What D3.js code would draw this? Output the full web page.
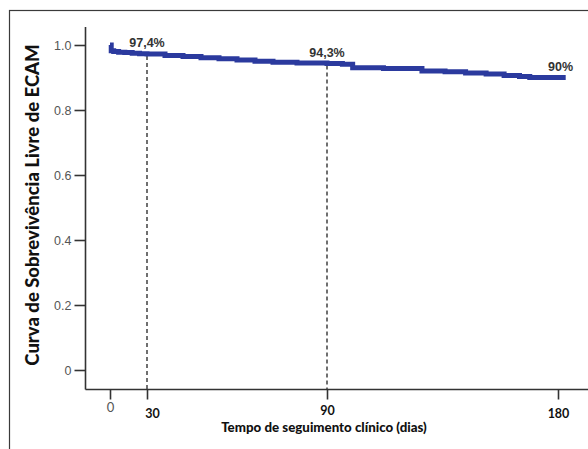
<!DOCTYPE html>
<html>
<head>
<meta charset="utf-8">
<script src="https://cdn.jsdelivr.net/npm/d3@7"></script>
<style>
  body { margin: 0; background: #fff; }
  svg { display: block; }
</style>
</head>
<body>
<div id="chart"></div>
<script>
// Kaplan-Meier style survival curve
const days     = [0, 1, 3, 7, 12, 18, 24, 30, 36, 42, 48, 54, 60, 66, 72, 80, 90, 96, 100, 112, 127, 136, 144, 152, 159, 165, 169, 183];
const survival = [1.0, 0.982, 0.980, 0.978, 0.977, 0.975, 0.973, 0.972, 0.968, 0.965, 0.961, 0.958, 0.954, 0.950, 0.947, 0.945, 0.943, 0.941, 0.930, 0.928, 0.920, 0.918, 0.914, 0.911, 0.906, 0.903, 0.900, 0.900];

const xTicks = [0, 30, 90, 180];
const yTicks = [0, 0.2, 0.4, 0.6, 0.8, 1.0];
const markDays   = [30, 90];
const markLabels = [{t: 30, v: 0.974, text: '97,4%'}, {t: 90, v: 0.943, text: '94,3%'}, {t: 181, v: 0.90, text: '90%'}];

(function(){
  const W = 588, H = 449;
  const svg = d3.select('#chart').append('svg').attr('width', W).attr('height', H);

  // outer frame (top and left edges visible)
  svg.append('rect')
    .attr('x', 9.5).attr('y', 10.5).attr('width', 600).attr('height', 460)
    .attr('fill', 'none').attr('stroke', '#3a3a3a').attr('stroke-width', 1.2);

  // the original axis is not evenly spaced, so use a piecewise scale
  const x = d3.scaleLinear().domain([0, 30, 90, 180]).range([110, 147, 327, 558]);
  const y = d3.scaleLinear().domain([0, 1]).range([370, 45]);
  const axisX = 85.5, axisY = 389.5;

  // y axis
  const gy = svg.append('g').attr('transform', 'translate(' + axisX + ',0)')
    .call(d3.axisLeft(y).tickValues(yTicks).tickSize(11).tickPadding(3)
      .tickFormat(d => d === 0 ? '0' : d3.format('.1f')(d)));
  gy.select('.domain').attr('d', 'M0,27V' + axisY).attr('stroke', '#333').attr('stroke-width', 1.6);
  gy.selectAll('.tick line').attr('stroke', '#333').attr('stroke-width', 1.6);
  gy.selectAll('.tick text').attr('font-family', 'Liberation Sans, Arial, sans-serif')
    .attr('font-size', 12.5).attr('fill', '#555');

  // x axis
  const labelY = {0: 22.5, 30: 28.5, 90: 25.5, 180: 28.5};
  const gx = svg.append('g').attr('transform', 'translate(0,' + axisY + ')')
    .call(d3.axisBottom(x).tickValues(xTicks).tickSize(10).tickPadding(8).tickFormat(d3.format('d')));
  gx.select('.domain').attr('d', 'M' + axisX + ',0H' + W).attr('stroke', '#333').attr('stroke-width', 1.6);
  gx.selectAll('.tick line').attr('stroke', '#333').attr('stroke-width', 1.6);
  gx.selectAll('.tick text')
    .attr('font-family', 'Lato, Carlito, sans-serif')
    .attr('font-weight', d => d === 0 ? 'normal' : 'bold')
    .attr('font-size', d => d === 0 ? 13 : 12.5)
    .attr('fill', d => d === 0 ? '#555' : '#111')
    .attr('y', d => labelY[d])
    .attr('dx', d => d === 30 ? 5 : 0)
    .attr('dy', 0);

  // survival values for dashed markers
  const surv = t => survival[d3.bisectRight(days, t) - 1];

  svg.append('g').selectAll('line')
    .data(markDays)
    .enter().append('line')
      .attr('x1', d => x(d)).attr('x2', d => x(d))
      .attr('y1', d => y(surv(d)) + 2).attr('y2', axisY)
      .attr('stroke', '#333').attr('stroke-width', 1.4)
      .attr('stroke-dasharray', '4,3');

  // curve
  const pts = days.map((d, i) => [d, survival[i]]);
  svg.append('path')
    .datum(pts)
    .attr('fill', 'none')
    .attr('stroke', '#2b3a9e')
    .attr('stroke-width', 5)
    .attr('d', d3.line().x(d => x(d[0])).y(d => y(d[1])).curve(d3.curveStepAfter));

  // percentage labels
  svg.append('g').selectAll('text')
    .data(markLabels)
    .enter().append('text')
      .attr('x', d => x(d.t))
      .attr('y', d => y(d.v) - 6.5)
      .attr('text-anchor', 'middle')
      .attr('font-family', 'Liberation Sans, Arial, sans-serif')
      .attr('font-weight', 'bold')
      .attr('font-size', 12.5)
      .attr('fill', '#333')
      .text(d => d.text);

  // axis titles
  svg.append('text')
    .attr('x', 324).attr('y', 432)
    .attr('text-anchor', 'middle')
    .attr('font-family', 'Lato, Carlito, sans-serif')
    .attr('font-weight', 900).attr('font-size', 13.3).attr('fill', '#111')
    .text('Tempo de seguimento clínico (dias)');

  svg.append('text')
    .attr('transform', 'translate(39,205) rotate(-90)')
    .attr('text-anchor', 'middle')
    .attr('font-family', 'Lato, Carlito, sans-serif')
    .attr('font-weight', 900).attr('font-size', 18.5).attr('fill', '#111')
    .text('Curva de Sobrevivência Livre de ECAM');
})();
</script>
</body>
</html>
